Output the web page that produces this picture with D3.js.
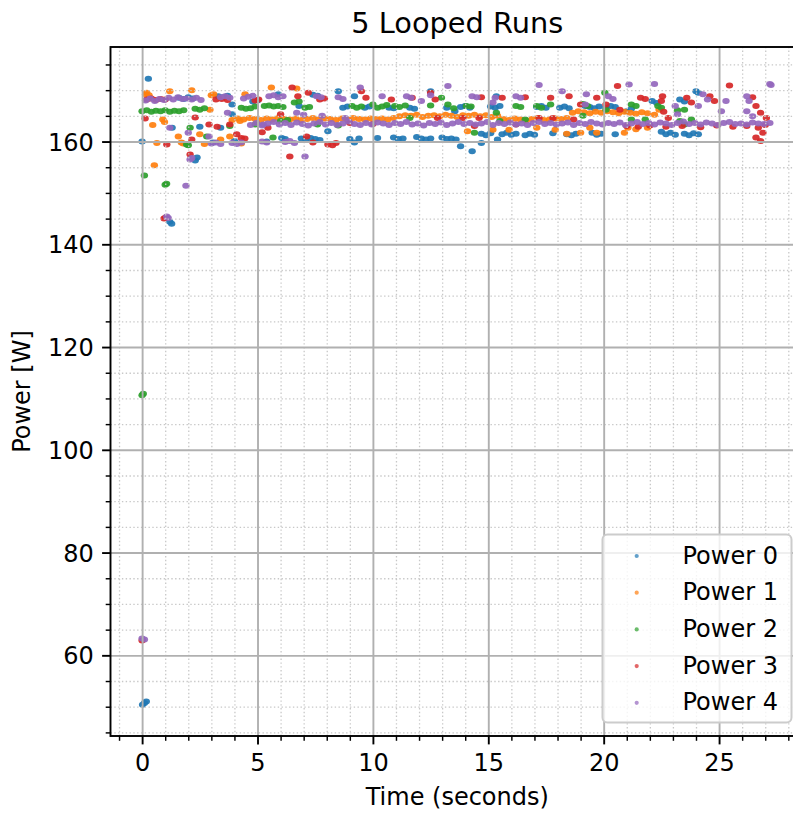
<!DOCTYPE html>
<html>
<head>
<meta charset="utf-8">
<script src="https://cdn.jsdelivr.net/npm/d3@7"></script>
<style>
  html, body { margin: 0; padding: 0; background: #fff; }
  svg { display: block; font-family: "DejaVu Sans", sans-serif; }
</style>
</head>
<body>
<svg id="chart" width="793" height="814"></svg>
<script>
// ---- data -------------------------------------------------------------
const chartTitle = "5 Looped Runs";
const xLabel = "Time (seconds)";
const yLabel = "Power [W]";
const seriesNames = ["Power 0", "Power 1", "Power 2", "Power 3", "Power 4"];

const xMajorTicks = [0, 5, 10, 15, 20, 25];
const xMinorTicks = [-1, 1, 2, 3, 4, 6, 7, 8, 9, 11, 12, 13, 14, 16, 17, 18, 19, 21, 22, 23, 24, 26, 27, 28];
const yMajorTicks = [60, 80, 100, 120, 140, 160];
const yMinorTicks = [45, 50, 55, 65, 70, 75, 85, 90, 95, 105, 110, 115, 125, 130, 135, 145, 150, 155, 165, 170, 175];

// [time (s), power (W)]
const power0 = [
  [0.0,160.0],[0.02,50.4],[0.1,50.7],[0.18,51.0],[0.27,172.2],
  [1.2,144.4],[1.28,144.0],[1.3,162.7],
  [1.6,168.5],[1.8,168.3],[2.0,168.6],[2.2,168.4],
  [2.3,156.3],[2.38,156.9],[2.5,162.9],[3.07,159.8],
  [3.3,168.8],[3.5,168.6],[3.7,168.9],[3.4,162.7],[3.9,165.3],[3.9,167.2],[4.0,160.1],
  [4.8,167.8],[5.0,168.0],[5.4,160.0],[5.9,169.2],[6.05,160.7],[6.2,160.5],
  [6.8,166.9],[6.9,160.6],[7.1,160.4],[7.3,160.7],[7.5,160.5],[7.7,160.3],
  [7.4,169.1],[7.6,168.9],[8.05,162.0],[8.5,169.8],[8.7,166.6],[8.9,166.8],
  [9.0,160.5],[9.2,159.8],[9.4,160.6],[9.2,168.8],[9.65,166.6],[9.85,166.8],
  [10.2,160.7],[10.7,166.6],[10.9,166.5],[10.9,160.8],[11.1,160.5],[11.3,160.6],
  [11.6,166.6],[11.8,166.4],[11.9,160.9],[12.1,160.6],[12.3,160.4],[12.5,160.6],[12.5,169.8],
  [13.0,160.8],[13.2,160.5],[13.4,160.6],[13.6,160.4],[13.2,166.6],[13.55,165.9],[13.8,159.1],
  [13.8,166.7],[14.0,166.9],[14.2,166.6],[14.3,158.1],[14.7,159.7],[14.7,161.5],[14.9,161.2],[15.1,161.6],
  [15.1,166.8],[15.3,166.6],[15.5,166.9],[15.35,168.8],[15.4,160.4],
  [15.6,161.4],[15.8,161.7],[16.0,161.3],[16.2,161.5],[16.6,161.2],[16.8,161.5],[17.0,161.3],
  [17.1,166.7],[17.3,166.9],[17.5,166.6],[17.8,161.6],[18.1,166.6],[18.3,166.8],[18.5,166.5],
  [18.4,161.4],[18.6,161.2],[18.8,161.5],[19.2,166.9],[19.4,166.7],[19.6,166.5],[19.8,166.8],
  [19.5,161.7],[19.7,161.3],[19.9,161.5],[20.1,166.6],[20.3,166.9],[20.5,166.7],[20.5,161.4],
  [21.0,165.9],[21.2,166.4],[22.1,167.9],[22.3,167.5],[22.5,161.9],[22.7,161.4],[22.9,161.7],[23.1,161.3],
  [23.3,168.2],[23.5,167.8],[23.5,161.5],[23.7,161.2],[23.9,161.6],[24.1,161.4],[24.0,169.8],[24.1,169.5]
];

const power1 = [
  [0.15,169.2],[0.2,169.5],[0.3,169.0],[0.46,163.2],[0.53,155.4],[0.64,159.7],[0.9,164.3],[0.97,163.8],
  [1.2,169.8],[1.57,161.0],[1.7,159.8],[1.78,159.6],[2.15,170.0],[2.5,161.4],[2.94,166.2],[3.0,169.0],[3.1,169.2],
  [3.4,160.4],[3.8,161.0],[4.24,164.0],[4.46,169.2],[5.6,170.5],[6.7,170.3],[2.7,159.5],[4.3,159.6],
  [3.9,164.2],[4.15,164.5],[4.4,164.3],[4.65,164.6],[4.9,164.4],[5.15,164.2],[5.4,164.5],[5.65,164.3],
  [5.9,164.6],[6.15,164.4],[6.4,164.3],[6.65,164.5],[6.9,164.2],[7.15,164.4],[7.4,164.6],[7.65,164.3],
  [7.9,164.5],[8.15,164.4],[8.4,164.2],[8.65,164.5],[8.9,164.3],[9.15,164.6],[9.4,164.4],[9.65,164.3],
  [9.9,164.5],[10.15,164.4],[10.4,164.5],[10.65,164.3],[10.9,164.6],
  [11.15,164.9],[11.4,165.1],[11.65,165.0],[11.9,165.2],[12.15,164.8],[12.4,165.0],[12.65,165.1],[12.9,164.9],
  [13.15,165.2],[13.4,165.0],[13.65,164.8],[13.9,165.1],[14.15,165.0],[14.4,165.2],[14.65,164.9],[14.9,165.1],
  [15.15,164.8],[15.4,165.0],
  [15.65,164.4],[15.9,164.2],[16.15,164.5],[16.4,164.3],[16.65,164.1],[16.9,164.4],[17.15,164.6],[17.4,164.2],
  [17.65,164.3],[17.9,164.5],[18.15,164.4],[18.4,164.6],
  [18.65,165.6],[18.9,165.9],[19.15,165.7],[19.4,165.5],[19.65,165.8],[19.9,165.6],[20.15,165.9],[20.4,165.7],
  [20.65,165.5],[20.9,165.8],[21.15,165.6],[21.4,165.4],[21.65,165.7],[21.9,165.5],
  [14.1,162.0],[15.2,162.3],[15.9,162.3],[17.1,162.7],[17.9,162.3],[18.4,161.5],[19.0,161.7],[19.4,162.7],
  [19.7,161.7],[20.9,161.7],[21.05,162.7],[21.4,162.4],[21.9,162.7],[22.4,166.2],[22.2,165.2]
];

const power2 = [
  [0.0,110.6],[0.05,110.9],[0.1,153.4],[1.0,151.6],[1.06,151.8],
  [0.0,165.9],[0.2,166.1],[0.4,165.8],[0.6,166.0],[0.8,165.9],[1.0,166.1],[1.2,165.8],[1.4,166.0],[1.6,165.9],[1.8,166.1],
  [1.93,159.4],[2.0,159.3],[2.08,162.7],[2.3,166.4],[2.5,166.2],[2.7,166.5],[2.8,161.0],
  [3.8,163.0],[4.3,166.6],[4.5,166.4],[4.7,166.5],[4.9,166.8],[4.9,163.3],[5.3,166.9],[5.5,167.0],[5.7,166.8],
  [5.9,166.9],[6.1,166.7],[5.67,160.8],[6.0,164.0],[6.3,164.2],[6.6,167.6],[6.8,167.8],[7.06,166.6],[7.25,166.7],
  [7.6,163.3],[8.5,163.1],
  [9.1,166.9],[9.3,166.6],[9.5,166.8],[10.0,167.2],[10.2,166.6],[10.4,166.8],[10.6,167.1],[10.95,166.9],[11.15,166.7],
  [11.4,167.0],[11.6,164.6],[12.5,167.0],[12.97,168.5],[13.25,167.2],[13.5,166.5],
  [14.05,166.9],[14.25,166.8],[14.4,161.7],[15.35,165.6],[15.5,164.0],[16.2,166.9],[16.4,166.7],[16.6,164.3],
  [17.1,166.9],[17.3,166.6],[17.7,167.2],[19.1,167.3],[19.3,166.9],[19.1,165.0],[20.05,169.5],[20.1,166.2],
  [21.2,167.2],[21.4,166.9],[21.2,164.3],[21.8,164.3],[22.35,166.9],[22.5,166.6],[23.2,166.1],[23.5,166.2],
  [23.3,164.0],[23.8,164.3],[23.5,163.3]
];

const power3 = [
  [0.0,62.9],[0.13,164.5],[0.2,168.2],[0.4,168.4],[0.6,168.1],[0.8,168.3],[1.0,168.2],[0.95,145.0],[1.02,145.2],[1.07,159.4],
  [2.08,157.5],[2.15,160.4],[2.3,164.7],[2.9,163.3],[3.25,162.9],[3.2,168.2],[3.45,168.3],[3.7,168.1],[3.8,163.3],
  [4.1,161.4],[4.3,160.7],[4.45,160.6],[4.9,168.0],[5.05,168.2],[5.2,161.8],[5.45,162.7],[6.0,165.3],[6.4,157.1],[6.5,170.5],
  [6.75,168.8],[7.2,169.5],[7.7,168.2],[7.9,168.4],[7.13,161.0],[7.4,159.8],[8.05,159.4],[8.25,159.3],[8.4,159.7],
  [9.0,163.6],[9.5,169.8],[9.7,168.5],[10.0,163.4],[10.8,168.2],[11.7,168.5],[12.5,169.5],[12.7,168.2],[12.8,164.6],
  [13.9,164.6],[14.4,163.0],[14.6,164.6],[14.7,168.6],[15.6,168.5],[16.2,163.3],[16.6,168.6],[17.2,164.6],[17.7,168.5],
  [17.8,164.6],[18.5,168.8],[18.7,164.3],[19.0,167.2],[19.7,168.5],[20.1,167.2],[20.6,170.8],[20.7,166.2],
  [21.6,168.5],[21.8,168.3],[22.5,167.9],[22.55,168.8],[22.6,165.8],[22.8,164.6],[23.6,168.5],[23.8,167.6],
  [24.6,168.8],[24.8,167.9],[25.45,170.9],[26.45,168.6],[26.6,166.9],[26.6,160.8],[26.7,162.7],[26.8,165.6],
  [26.8,160.1],[26.9,161.7],[27.05,164.6],
  [21.0,163.0],[21.5,162.9],[22.0,163.1],[22.7,162.9],[23.4,163.0],[24.2,162.8],[24.9,163.1],[25.6,162.9],[26.2,163.0],[27.0,163.2]
];

const power4 = [
  [0.0,63.3],[0.1,63.1],[1.07,145.4],[1.13,145.1],[1.9,151.4],[2.08,156.5],[2.15,156.8],
  [0.15,168.0],[0.35,168.4],[0.55,167.9],[0.75,168.3],[0.95,168.1],[1.15,168.5],[1.35,168.2],[1.55,168.6],
  [1.75,168.3],[1.95,168.4],[2.15,168.2],[2.35,168.5],[2.55,168.1],
  [1.2,162.7],[2.0,161.7],[2.9,161.0],[3.7,165.6],
  [3.4,168.6],[3.6,168.8],[3.8,168.5],[4.4,168.4],[4.6,168.7],[4.8,168.9],[5.5,168.8],[5.7,169.0],[5.9,168.6],[6.1,168.8],
  [3.0,159.6],[3.2,159.8],[3.4,159.5],[3.9,159.7],[4.1,159.5],[4.3,159.8],[5.2,160.0],[5.4,159.8],[6.2,159.9],[6.4,160.1],[6.6,159.7],
  [5.25,163.3],[6.7,165.6],[7.0,165.2],[7.06,157.1],[7.8,165.0],[8.8,164.6],
  [7.56,168.8],[7.75,168.6],[8.5,168.6],[8.7,168.3],[9.45,170.5],[10.4,168.8],[11.46,168.8],[11.65,168.5],[12.1,167.9],
  [12.5,169.0],[13.25,170.8],[14.3,168.8],[14.5,168.6],[15.2,167.6],[15.3,168.5],[16.2,168.8],[16.4,168.5],[17.2,171.0],
  [18.2,169.8],[19.2,167.2],[19.25,169.2],[20.2,168.8],[20.4,168.3],[21.1,171.1],[22.2,171.2],[23.1,166.9],[23.2,165.3],
  [24.1,166.9],[24.3,169.2],[24.5,168.2],[25.1,165.9],[25.3,167.9],[26.2,168.8],[26.3,167.9],[26.2,165.9],[26.45,164.9],
  [27.2,171.2],[27.25,171.0],
  [4.7,163.2],[4.95,163.6],[5.2,163.1],[5.45,163.5],[5.7,163.8],[5.95,163.3],[6.2,163.6],[6.45,163.2],[6.7,163.7],[6.95,163.4],
  [7.2,163.1],[7.45,163.5],[7.7,163.8],[7.95,163.3],[8.2,163.6],[8.45,163.2],[8.7,163.5],[8.95,163.9],[9.2,163.4],[9.45,163.2],
  [9.7,163.6],[9.95,163.3],[10.2,163.7],[10.45,163.5],[10.7,163.2],[10.95,163.6],[11.2,163.4],[11.45,163.8],[11.7,163.3],[11.95,163.5],
  [12.2,163.1],[12.45,163.6],[12.7,163.4],[12.95,163.7],[13.2,163.2],[13.45,163.5],[13.7,163.8],[13.95,163.4],[14.2,163.6],[14.45,163.3],
  [14.7,163.5],[14.95,163.8],[15.2,163.2],[15.45,163.6],[15.7,163.4],[15.95,163.7],[16.2,163.3],[16.45,163.5],[16.7,163.2],[16.95,163.6],
  [17.2,163.8],[17.45,163.4],[17.7,163.6],[17.95,163.3],[18.2,163.5],[18.45,163.7],[18.7,163.2],[18.95,163.6],[19.2,163.4],[19.45,163.8],
  [19.7,163.5],[19.95,163.3],[20.2,163.6],[20.45,163.4],[20.7,163.7],[20.95,163.2],[21.2,163.5],[21.45,163.8],[21.7,163.4],[21.95,163.6],
  [22.2,163.3],[22.45,163.7],[22.7,163.5],[22.95,163.2],[23.2,163.6],[23.45,163.9],[23.7,163.4],[23.95,163.6],[24.2,163.3],[24.45,163.7],
  [24.7,163.5],[24.95,163.2],[25.2,163.6],[25.45,163.8],[25.7,163.4],[25.95,163.5],[26.2,163.3],[26.45,163.7],[26.7,163.5],[26.95,163.4],
  [27.2,163.6]
];

const seriesData = [power0, power1, power2, power3, power4];
const palette = ["#1f77b4", "#ff7f0e", "#2ca02c", "#d62728", "#9467bd"];

// ---- layout -----------------------------------------------------------
const svg = d3.select("#chart");
const plot = { left: 110.5, right: 804, top: 47, bottom: 736 };

const x = d3.scaleLinear().domain([-1.37, 28.68]).range([plot.left, plot.right]);
const y = d3.scaleLinear().domain([44.3, 178.4]).range([plot.bottom, plot.top]);

// ---- scatter ----------------------------------------------------------
const marks = svg.append("g");
seriesData.forEach((rows, i) => {
  marks.append("g")
    .attr("fill", palette[i])
    .attr("fill-opacity", 0.92)
    .selectAll("ellipse")
    .data(rows)
    .join("ellipse")
    .attr("cx", d => x(d[0]))
    .attr("cy", d => y(d[1]))
    .attr("rx", 3.7)
    .attr("ry", 3.0);
});

// ---- grid (drawn over the markers) -----------------------------------
const grid = svg.append("g");
grid.append("g").attr("transform", `translate(0,${plot.bottom})`)
  .call(d3.axisBottom(x).tickValues(xMinorTicks).tickSize(-(plot.bottom - plot.top)).tickFormat(""))
  .call(g => g.select(".domain").remove())
  .call(g => g.selectAll("line").attr("stroke", "#c8c8c8").attr("stroke-width", 1.3).attr("stroke-dasharray", "1.4,2.4"));
grid.append("g").attr("transform", `translate(${plot.left},0)`)
  .call(d3.axisLeft(y).tickValues(yMinorTicks).tickSize(-(plot.right - plot.left)).tickFormat(""))
  .call(g => g.select(".domain").remove())
  .call(g => g.selectAll("line").attr("stroke", "#c8c8c8").attr("stroke-width", 1.3).attr("stroke-dasharray", "1.4,2.4"));
grid.append("g").attr("transform", `translate(0,${plot.bottom})`)
  .call(d3.axisBottom(x).tickValues(xMajorTicks).tickSize(-(plot.bottom - plot.top)).tickFormat(""))
  .call(g => g.select(".domain").remove())
  .call(g => g.selectAll("line").attr("stroke", "#b0b0b0").attr("stroke-width", 1.9));
grid.append("g").attr("transform", `translate(${plot.left},0)`)
  .call(d3.axisLeft(y).tickValues(yMajorTicks).tickSize(-(plot.right - plot.left)).tickFormat(""))
  .call(g => g.select(".domain").remove())
  .call(g => g.selectAll("line").attr("stroke", "#b0b0b0").attr("stroke-width", 1.9));

// ---- axes -------------------------------------------------------------
const axisFont = 24;
const xAxisMinor = svg.append("g").attr("transform", `translate(0,${plot.bottom})`)
  .call(d3.axisBottom(x).tickValues(xMinorTicks).tickSize(4.8).tickFormat(""));
xAxisMinor.select(".domain").remove();
xAxisMinor.selectAll("line").attr("stroke", "#000").attr("stroke-width", 1.45);

const yAxisMinor = svg.append("g").attr("transform", `translate(${plot.left},0)`)
  .call(d3.axisLeft(y).tickValues(yMinorTicks).tickSize(4.8).tickFormat(""));
yAxisMinor.select(".domain").remove();
yAxisMinor.selectAll("line").attr("stroke", "#000").attr("stroke-width", 1.45);

const xAxis = svg.append("g").attr("transform", `translate(0,${plot.bottom})`)
  .call(d3.axisBottom(x).tickValues(xMajorTicks).tickSize(8.4).tickPadding(8.4).tickFormat(d3.format("d")));
xAxis.select(".domain").remove();
xAxis.selectAll("line").attr("stroke", "#000").attr("stroke-width", 1.9);
xAxis.selectAll("text").attr("fill", "#000").attr("font-size", axisFont)
  .attr("font-family", "DejaVu Sans").attr("dy", "0.76em");

const yAxis = svg.append("g").attr("transform", `translate(${plot.left},0)`)
  .call(d3.axisLeft(y).tickValues(yMajorTicks).tickSize(8.4).tickPadding(8.4).tickFormat(d3.format("d")));
yAxis.select(".domain").remove();
yAxis.selectAll("line").attr("stroke", "#000").attr("stroke-width", 1.9);
yAxis.selectAll("text").attr("fill", "#000").attr("font-size", axisFont)
  .attr("font-family", "DejaVu Sans").attr("dy", "0.36em");

// frame
svg.append("rect")
  .attr("x", plot.left).attr("y", plot.top)
  .attr("width", plot.right - plot.left).attr("height", plot.bottom - plot.top)
  .attr("fill", "none").attr("stroke", "#000").attr("stroke-width", 1.9);

// ---- labels -----------------------------------------------------------
const cx = (plot.left + plot.right) / 2;
svg.append("text").attr("x", cx).attr("y", 33)
  .attr("text-anchor", "middle").attr("font-size", 28.8).text(chartTitle);
svg.append("text").attr("x", cx).attr("y", 805)
  .attr("text-anchor", "middle").attr("font-size", axisFont).text(xLabel);
svg.append("text")
  .attr("transform", `translate(30,${(plot.top + plot.bottom) / 2}) rotate(-90)`)
  .attr("text-anchor", "middle").attr("font-size", axisFont).text(yLabel);

// ---- legend -----------------------------------------------------------
const legend = svg.append("g");
legend.append("rect")
  .attr("x", 602.5).attr("y", 534.5).attr("width", 189).attr("height", 188).attr("rx", 5)
  .attr("fill", "#fff").attr("fill-opacity", 0.8)
  .attr("stroke", "#cccccc").attr("stroke-width", 2);
const rowStep = 36.7;
const rows = legend.selectAll("g.item").data(seriesNames).join("g")
  .attr("class", "item")
  .attr("transform", (d, i) => `translate(0,${556 + i * rowStep})`);
rows.append("circle").attr("cx", 636.7).attr("cy", 0).attr("r", 2.1)
  .attr("fill", (d, i) => palette[i]).attr("fill-opacity", 0.7);
rows.append("text").attr("x", 682.5).attr("y", 7.5)
  .attr("font-size", axisFont).attr("fill", "#000").text(d => d);
</script>
</body>
</html>
